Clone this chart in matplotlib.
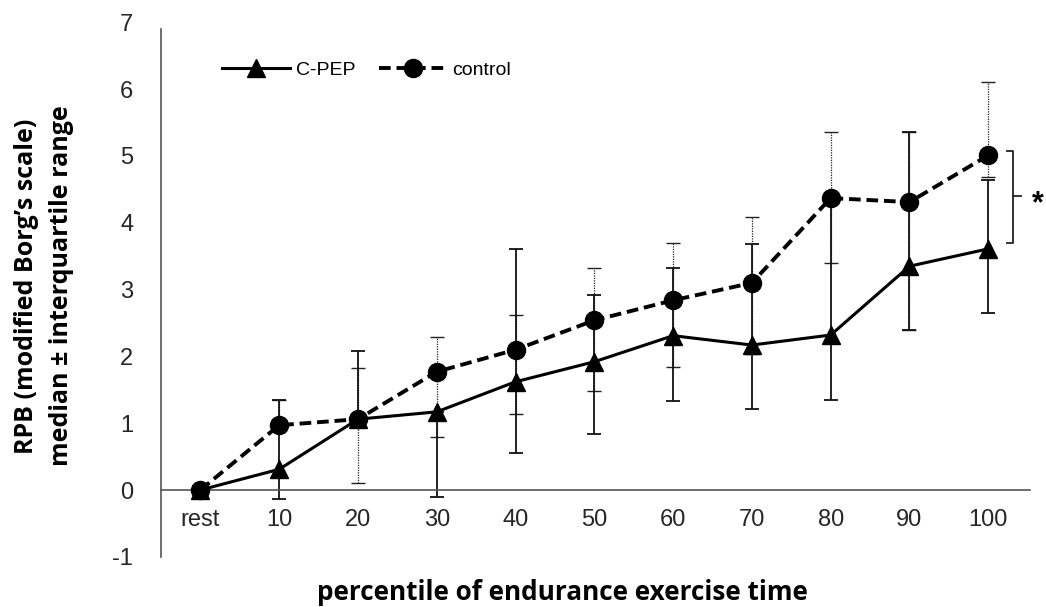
import matplotlib.pyplot as plt
import numpy as np

# RPB (modified Borg scale), median with interquartile range
labels = ["rest", "10", "20", "30", "40", "50", "60", "70", "80", "90", "100"]

cpep_med = [0, 0.31, 1.06, 1.17, 1.62, 1.92, 2.31, 2.17, 2.32, 3.35, 3.61]
cpep_lo = [0, -0.14, 1.06, -0.10, 0.55, 0.84, 1.33, 1.21, 1.35, 2.40, 2.65]
cpep_hi = [0, 1.35, 2.08, 1.17, 3.61, 2.92, 3.32, 3.68, 4.37, 5.36, 4.64]

ctrl_med = [0, 0.97, 1.06, 1.77, 2.10, 2.54, 2.84, 3.10, 4.37, 4.31, 5.01]
ctrl_lo = [0, 0.97, 0.10, 0.79, 1.14, 1.48, 1.84, 2.04, 3.40, 2.40, 4.69]
ctrl_hi = [0, 1.35, 1.83, 2.29, 2.62, 3.32, 3.70, 4.09, 5.36, 5.36, 6.11]

x = np.arange(len(labels))
cpep_med, cpep_lo, cpep_hi = map(np.array, (cpep_med, cpep_lo, cpep_hi))
ctrl_med, ctrl_lo, ctrl_hi = map(np.array, (ctrl_med, ctrl_lo, ctrl_hi))

plt.rcParams['font.family'] = ['Liberation Sans', 'DejaVu Sans']
plt.rcParams['axes.unicode_minus'] = False

fig = plt.figure(figsize=(10.46, 6.07), dpi=100)
ax = fig.add_axes([0.1539, 0.0827, 0.8308, 0.8804])

# error bars first (control dotted, C-PEP solid)
eb = ax.errorbar(x, ctrl_med, yerr=[ctrl_med - ctrl_lo, ctrl_hi - ctrl_med],
                 fmt='none', ecolor='#222222', elinewidth=0.9, capsize=5, capthick=1.0, zorder=2)
eb[2][0].set_linestyle((0, (1, 1)))
ax.errorbar(x, cpep_med, yerr=[cpep_med - cpep_lo, cpep_hi - cpep_med],
            fmt='none', ecolor='#111111', elinewidth=1.3, capsize=5, capthick=1.3, zorder=2)

ax.plot(x, cpep_med, color='black', lw=2.2, marker='^', ms=13, label='C-PEP', zorder=4)
ax.plot(x, ctrl_med, color='black', lw=2.8, linestyle=(0, (3, 1.5)), marker='o', ms=13,
        label='control', zorder=3)

# significance bracket at the last time point
bx = x[-1] + 0.32
ax.plot([bx - 0.08, bx, bx, bx - 0.08], [ctrl_med[-1] + 0.07, ctrl_med[-1] + 0.07,
        cpep_med[-1] + 0.09, cpep_med[-1] + 0.09], color='#222222', lw=1.3, clip_on=False)
mid = (ctrl_med[-1] + cpep_med[-1]) / 2 + 0.09
ax.plot([bx, bx + 0.09], [mid, mid], color='#222222', lw=1.3, clip_on=False)
ax.text(bx + 0.31, mid - 0.12, '*', fontsize=22, fontweight='bold', ha='center', va='center', clip_on=False)

ax.set_xlim(-0.5, 10.53)
ax.set_ylim(-1, 7)
ax.set_yticks(range(-1, 8))
ax.set_xticks(x)
ax.set_xticklabels(labels)

for s in ['top', 'right']:
    ax.spines[s].set_visible(False)
ax.spines['bottom'].set_position(('data', 0))
ax.spines['left'].set_bounds(-1, 6.9)
for s in ['bottom', 'left']:
    ax.spines[s].set_color('#555555')
    ax.spines[s].set_linewidth(1.2)

ax.tick_params(axis='x', length=0, pad=14, labelsize=17, labelcolor='#262626')
ax.tick_params(axis='y', length=0, pad=20, labelsize=17, labelcolor='#262626')

ax.legend(loc='center left', bbox_to_anchor=(222 / 1046, 1 - 70 / 607), bbox_transform=fig.transFigure,
          ncol=2, frameon=False, fontsize=14, handlelength=3.5, handletextpad=0.3,
          columnspacing=1.2, borderpad=0, borderaxespad=0)

fig.text(562 / 1046, 1 - 592 / 607, 'percentile of endurance exercise time', ha='center', va='center',
         fontsize=18.8, fontweight='bold', family=['Open Sans', 'DejaVu Sans'])
fig.text(27 / 1046, 1 - 286 / 607, 'RPB (modified Borg\u2019s scale)', ha='center', va='center',
         rotation=90, fontsize=18, fontweight='bold', family=['Open Sans', 'DejaVu Sans'])
fig.text(62 / 1046, 1 - 286 / 607, 'median \u00b1 interquartile range', ha='center', va='center',
         rotation=90, fontsize=18, fontweight='bold', family=['Open Sans', 'DejaVu Sans'])

fig.savefig('out.png', dpi=100)
